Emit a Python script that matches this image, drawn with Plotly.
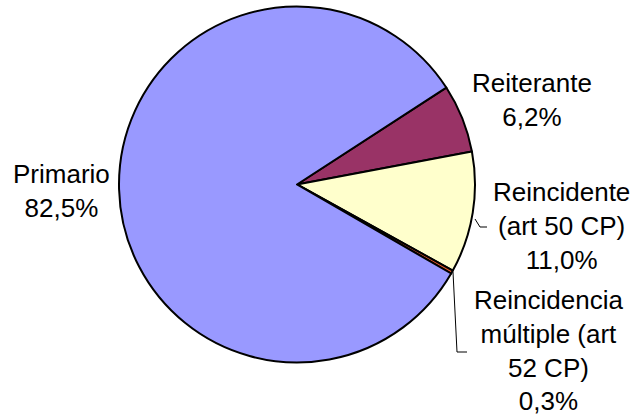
import plotly.graph_objects as go

categories = ["Reiterante", "Reincidente (art 50 CP)", "Reincidencia múltiple (art 52 CP)", "Primario"]
display_labels = ["Reiterante", "Reincidente<br>(art 50 CP)", "Reincidencia<br>múltiple (art<br>52 CP)", "Primario"]
values = [6.2, 11.0, 0.3, 82.5]
colors = ["#993366", "#FFFFCC", "#E2572B", "#9999FF"]

W, H = 641, 419
cx, cy, r = 297, 184.5, 178

def px(x):
    return x / W

def py(y):
    return 1 - y / H

fig = go.Figure(go.Pie(
    labels=categories,
    values=values,
    sort=False,
    direction="clockwise",
    rotation=57,
    marker=dict(colors=colors, line=dict(color="black", width=2)),
    textinfo="none",
    hoverinfo="label+percent",
    showlegend=False,
    domain=dict(x=[px(cx - r), px(cx + r)], y=[py(cy + r), py(cy - r)]),
))

# label block centres (pixels)
label_pos = [(532, 100), (561, 226), (548, 350), (61, 191)]
for lab, val, (lx, ly) in zip(display_labels, values, label_pos):
    txt = f"{lab}<br>{val:.1f}%".replace(".", ",")
    fig.add_annotation(x=px(lx), y=py(ly), xref="paper", yref="paper",
                       text=txt, showarrow=False, xanchor="center", yanchor="middle",
                       align="center", font=dict(family="Liberation Sans, Arial", size=26, color="black"))

# leader lines
leaders = [
    [(475, 219), (480, 227), (487, 227)],
    [(453, 272), (457, 352), (467, 352)],
]
for pts in leaders:
    path = "M " + " L ".join(f"{px(x)} {py(y)}" for x, y in pts)
    fig.add_shape(type="path", path=path, xref="paper", yref="paper",
                  line=dict(color="black", width=1))

fig.update_layout(
    width=W, height=H,
    margin=dict(l=0, r=0, t=0, b=0),
    paper_bgcolor="white", plot_bgcolor="white",
    separators=",.",
)
fig.write_html("out.html", config={"displayModeBar": False},
               post_script="document.body.style.margin='0';document.body.style.overflow='hidden';")
